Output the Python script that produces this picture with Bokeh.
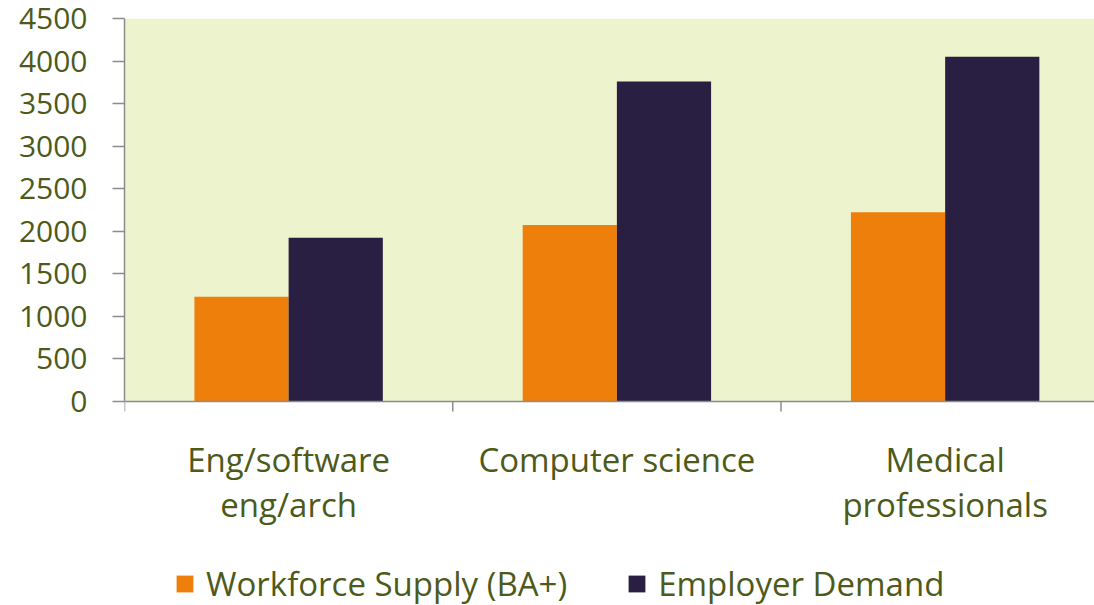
import math
from bokeh.plotting import figure
from bokeh.models import Range1d, FixedTicker, Legend, LegendItem, ColumnDataSource, BoxAnnotation, Span
from bokeh.transform import dodge
from bokeh.core.properties import value
from bokeh.embed import file_html
from bokeh.resources import INLINE

categories = ["Eng/software\neng/arch", "Computer science", "Medical\nprofessionals"]
supply = [1230, 2075, 2225]
demand = [1925, 3760, 4050]
series_names = ["Workforce Supply (BA+)", "Employer Demand"]
y_ticks = [0, 500, 1000, 1500, 2000, 2500, 3000, 3500, 4000, 4500]

TEXT = "#4d5a1a"
FONT = "Open Sans"
AXIS = "#8c8c8c"
W, H = 1094, 605
TOP, ZERO = 18, 401          # pixel rows of the 4500 line and of the 0 line
YMAX = y_ticks[-1]
ymin = -YMAX * (H - ZERO) / (ZERO - TOP)   # extra room under the plot area for labels/legend

centers = [i + 0.5 for i in range(len(categories))]
bounds = [i for i in range(len(categories) + 1)]
src = ColumnDataSource(dict(x=centers, supply=supply, demand=demand))
lab_src = ColumnDataSource(dict(x=centers, y=[0] * len(categories), text=categories))

p = figure(width=W, height=H, output_backend="svg", toolbar_location=None,
           x_range=Range1d(0, 2.955), y_range=Range1d(ymin, YMAX),
           x_axis_location=None,
           min_border_left=124, min_border_right=0, min_border_top=TOP,
           min_border_bottom=0)
p.background_fill_color = "white"
p.border_fill_color = "white"
p.outline_line_color = None
p.grid.visible = False

p.add_layout(BoxAnnotation(bottom=0, top=YMAX, fill_color="#edf3cd", fill_alpha=1,
                           line_color=None, level="underlay"))

bw = 0.287
r1 = p.vbar(x=dodge("x", -bw / 2, range=p.x_range), top="supply", width=bw,
            source=src, fill_color="#ef7f0b", line_color=None)
r2 = p.vbar(x=dodge("x", bw / 2, range=p.x_range), top="demand", width=bw,
            source=src, fill_color="#281f42", line_color=None)

# category axis: baseline, boundary ticks, labels
p.add_layout(Span(location=0, dimension="width", line_color=AXIS, line_width=1.5))
p.ray(x=bounds, y=[0] * len(bounds), length=10, length_units="screen",
      angle=-math.pi / 2, line_color=AXIS, line_width=1.5)
p.text(x="x", y="y", text="text", source=lab_src, text_align="center",
       text_baseline="top", y_offset=35, text_font=value(FONT),
       text_font_size="33px", text_color=TEXT, text_line_height=1.0)

ya = p.yaxis[0]
ya.ticker = FixedTicker(ticks=y_ticks, minor_ticks=[])
ya.bounds = (0, YMAX)
ya.axis_line_color = AXIS
ya.axis_line_width = 1.5
ya.major_tick_line_color = AXIS
ya.major_tick_line_width = 1.5
ya.major_tick_out = 12
ya.major_tick_in = 0
ya.minor_tick_out = 0
ya.minor_tick_in = 0
ya.major_label_standoff = 25
ya.major_label_text_font = FONT
ya.major_label_text_font_size = "30px"
ya.major_label_text_color = TEXT

legend = Legend(items=[LegendItem(label=series_names[0], renderers=[r1]),
                       LegendItem(label=series_names[1], renderers=[r2])],
                orientation="horizontal", location=(50, -1),
                glyph_width=21, glyph_height=21, label_standoff=11, spacing=59,
                label_text_font=FONT, label_text_font_size="33px",
                label_text_color=TEXT, border_line_color=None,
                background_fill_alpha=0, padding=4, margin=0)
p.add_layout(legend, "center")

open("out.html", "w").write(file_html(p, INLINE))
